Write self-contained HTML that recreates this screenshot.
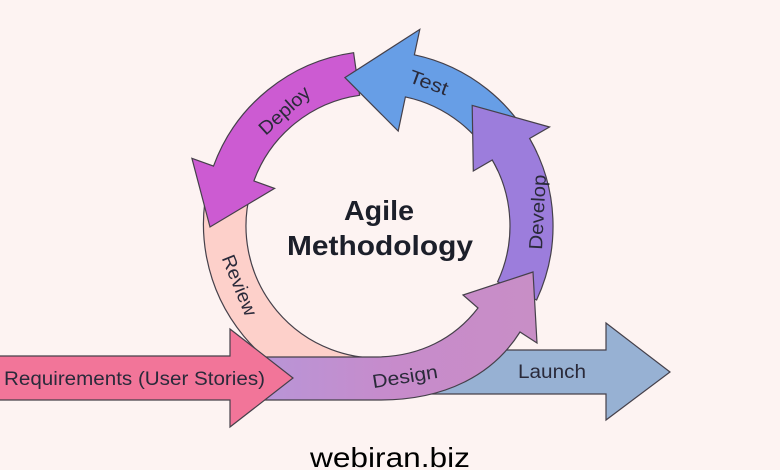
<!DOCTYPE html>
<html><head><meta charset="utf-8"><style>
html,body{margin:0;padding:0;background:#fdf3f2;}
svg{display:block;}
text{font-family:"Liberation Sans",sans-serif;fill:#2a2a3a;}
</style></head><body>
<svg width="780" height="470" viewBox="0 0 780 470" xmlns="http://www.w3.org/2000/svg">
<defs>
<linearGradient id="dg" x1="250" y1="0" x2="540" y2="0" gradientUnits="userSpaceOnUse">
<stop offset="0" stop-color="#b796d8"/><stop offset="0.5" stop-color="#c78bcb"/><stop offset="1" stop-color="#c88ec6"/>
</linearGradient>
</defs>
<rect width="780" height="470" fill="#fdf3f2"/>
<g stroke="#45404a" stroke-width="1.2" stroke-linejoin="miter">
<path d="M209,180.7 A175,175 0 0 0 390,399 L389.5,357.5 A132,132 0 0 1 250.5,191.8 Z" fill="#fdd0ca"/>
<path d="M353.6,52.7 A175,175 0 0 0 213.5,166.1 L191.9,158.3 L210,227 L274.6,188.4 L253.9,180.9 A132,132 0 0 1 359.6,95.3 Z" fill="#cc5bd2"/>
<path d="M536.6,152 A175,175 0 0 0 414.4,54.8 L419.8,29.4 L344.9,77.6 L398.2,131.1 L405.4,96.9 A132,132 0 0 1 497.6,170.2 Z" fill="#679ee6"/>
<path d="M536.6,300 A175,175 0 0 0 529.6,138.5 L549.5,127 L472.2,105.4 L473.3,171 L492.3,160 A132,132 0 0 1 497.6,281.8 Z" fill="#9c7ddc"/>
<path d="M420,350 L606,350 L606,323 L670,372 L606,420 L606,394 L420,394 Z" fill="#97b1d3"/>
<path d="M250,357 L375,357 C420,357 455,338 478,308 L463,295 L533,272 L537,343 L520,332 C493,375 445,400 380,400 L250,400 Z" fill="url(#dg)"/>
<path d="M-2,356 L230,356 L230,329 L293,378 L230,427 L230,400 L-2,400 Z" fill="#f27599"/>
</g>
<text x="4" y="385" font-size="19" textLength="261" lengthAdjust="spacingAndGlyphs">Requirements (User Stories)</text>
<text x="518" y="378" font-size="19" textLength="68" lengthAdjust="spacingAndGlyphs">Launch</text>
<text x="405" y="383" font-size="19" text-anchor="middle" textLength="66" lengthAdjust="spacingAndGlyphs" transform="rotate(-9 405 377)">Design</text>
<text x="284" y="117" font-size="19" text-anchor="middle" textLength="62" lengthAdjust="spacingAndGlyphs" transform="rotate(-42 284 110)">Deploy</text>
<text x="429" y="89" font-size="19" text-anchor="middle" textLength="40" lengthAdjust="spacingAndGlyphs" transform="rotate(20 429 82)">Test</text>
<text x="537" y="219" font-size="19" text-anchor="middle" textLength="75" lengthAdjust="spacingAndGlyphs" transform="rotate(-87 537 212)">Develop</text>
<text x="240" y="292" font-size="19" text-anchor="middle" textLength="64" lengthAdjust="spacingAndGlyphs" transform="rotate(68 240 285)">Review</text>
<text x="379" y="220" font-size="28" font-weight="bold" text-anchor="middle" textLength="70" lengthAdjust="spacingAndGlyphs" style="fill:#1c1f2a">Agile</text>
<text x="380" y="255" font-size="28" font-weight="bold" text-anchor="middle" textLength="186" lengthAdjust="spacingAndGlyphs" style="fill:#1c1f2a">Methodology</text>
<text x="390" y="467" font-size="28" text-anchor="middle" textLength="160" lengthAdjust="spacingAndGlyphs" style="fill:#000">webiran.biz</text>
</svg>
</body></html>
